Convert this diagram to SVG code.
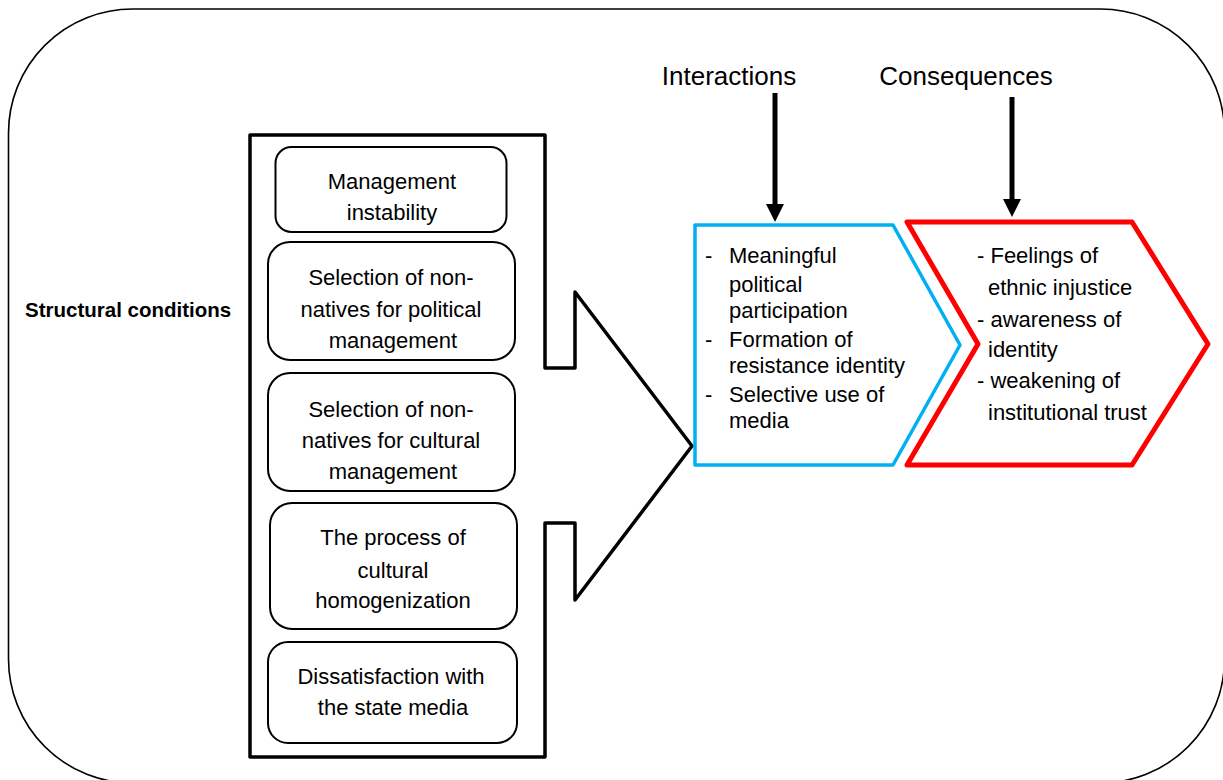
<svg xmlns="http://www.w3.org/2000/svg" width="1223" height="780" viewBox="0 0 1223 780">
<defs>
<style>
.t{font-family:"Liberation Sans",Arial,sans-serif;font-size:22px;fill:#000}
.c{text-anchor:middle}
.h{font-family:"Liberation Sans",Arial,sans-serif;font-size:26px;fill:#000}
.b{font-family:"Liberation Sans",Arial,sans-serif;font-size:20.5px;font-weight:bold;fill:#000}
.box{fill:#fff;stroke:#000;stroke-width:2}
.arr{stroke:#000;stroke-width:5;fill:none}
</style>
<marker id="ah" markerUnits="userSpaceOnUse" markerWidth="20" markerHeight="20" viewBox="0 0 20 20" refX="0" refY="10" orient="auto">
<path d="M0,1 L18,10 L0,19 Z" fill="#000"/>
</marker>
</defs>
<rect width="1223" height="780" fill="#fff"/>
<g id="frame">
<rect x="8.5" y="9" width="1216" height="774" rx="124" ry="124" fill="none" stroke="#000" stroke-width="1.6"/>
</g>
<g id="structural-label">
<text class="b" x="25" y="317">Structural conditions</text>
</g>
<g id="structural-arrow">
<path d="M250,135 L545,135 L545,368 L575,368 L575,292 L692,446 L575,600 L575,523 L545,523 L545,757 L250,757 Z" fill="#fff" stroke="#000" stroke-width="3.5" stroke-linejoin="round"/>
</g>
<g id="node-management-instability">
<rect class="box" x="275.5" y="147" width="231" height="85" rx="16"/>
<text class="t c" x="392" y="189">Management</text>
<text class="t c" x="392" y="220">instability</text>
</g>
<g id="node-political">
<rect class="box" x="268" y="242" width="247" height="118" rx="22"/>
<text class="t c" x="391" y="285">Selection of non-</text>
<text class="t c" x="391" y="317">natives for political</text>
<text class="t c" x="393" y="348">management</text>
</g>
<g id="node-cultural">
<rect class="box" x="268" y="373" width="247" height="118" rx="22"/>
<text class="t c" x="391" y="417">Selection of non-</text>
<text class="t c" x="391" y="448">natives for cultural</text>
<text class="t c" x="393" y="479">management</text>
</g>
<g id="node-homogenization">
<rect class="box" x="270" y="503" width="247" height="126" rx="22"/>
<text class="t c" x="393" y="545">The process of</text>
<text class="t c" x="393" y="578">cultural</text>
<text class="t c" x="393" y="608">homogenization</text>
</g>
<g id="node-media">
<rect class="box" x="268" y="642" width="249" height="101" rx="20"/>
<text class="t c" x="391" y="684">Dissatisfaction with</text>
<text class="t c" x="393" y="715">the state media</text>
</g>
<g id="node-interactions">
<path d="M695,225 L893,225 L960,345 L893,465 L695,465 Z" fill="#fff" stroke="#00B0F0" stroke-width="3.5" stroke-linejoin="round"/>
<text class="t" x="705" y="263">-</text>
<text class="t" x="729" y="263">Meaningful</text>
<text class="t" x="729" y="292">political</text>
<text class="t" x="729" y="318">participation</text>
<text class="t" x="705" y="347">-</text>
<text class="t" x="729" y="347">Formation of</text>
<text class="t" x="729" y="373">resistance identity</text>
<text class="t" x="705" y="402">-</text>
<text class="t" x="729" y="402">Selective use of</text>
<text class="t" x="729" y="428">media</text>
</g>
<g id="node-consequences">
<path d="M907,222 L1132,222 L1208,344 L1132,465 L907,465 L978,344 Z" fill="#fff" stroke="#FF0000" stroke-width="5" stroke-linejoin="round"/>
<text class="t" x="977" y="263">- Feelings of</text>
<text class="t" x="988" y="295">ethnic injustice</text>
<text class="t" x="977" y="327">- awareness of</text>
<text class="t" x="988" y="357">identity</text>
<text class="t" x="977" y="388">- weakening of</text>
<text class="t" x="988" y="420">institutional trust</text>
</g>
<g id="label-interactions">
<text class="h" x="729" y="85" text-anchor="middle">Interactions</text>
</g>
<g id="label-consequences">
<text class="h" x="966" y="85" text-anchor="middle">Consequences</text>
</g>
<g id="connectors">
<line class="arr" x1="775" y1="93" x2="775" y2="204" marker-end="url(#ah)"/>
<line class="arr" x1="1012" y1="97" x2="1012" y2="199" marker-end="url(#ah)"/>
</g>
</svg>
